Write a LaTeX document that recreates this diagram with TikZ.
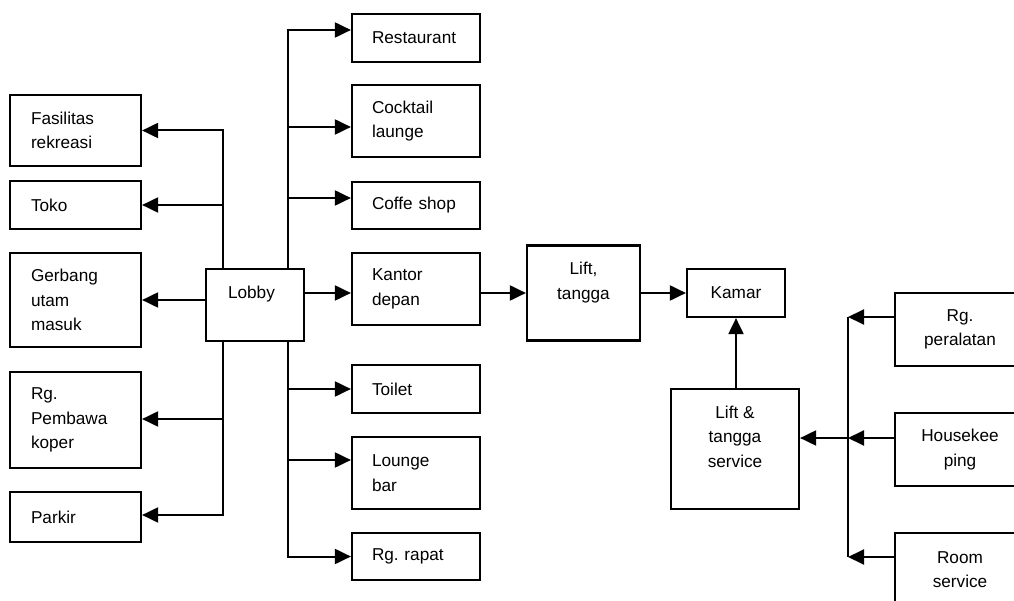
\documentclass[tikz,border=0pt]{standalone}
\usepackage{fontspec}
\setmainfont{Liberation Sans}
\usetikzlibrary{arrows.meta}
\frenchspacing
\begin{document}
\begin{tikzpicture}[x=1pt,y=-1pt,
  box/.style={draw, line width=2.2pt, inner sep=0pt,
    font=\fontsize{17.2}{24.5}\selectfont},
  lbox/.style={box, align=left, text width=#1},
  cbox/.style={box, align=center},
  conn/.style={line width=2pt},
  arr/.style={conn, -{Triangle[length=16pt,width=15pt]}}]
\useasboundingbox (0,0) rectangle (1014,601);
\clip (0,0) rectangle (1014,601);

% left column
\node[lbox=89, minimum width=131, minimum height=71] (fas)  at (75.5,130.5) {Fasilitas\\rekreasi};
\node[lbox=89, minimum width=131, minimum height=48] (toko) at (75.5,205) {Toko};
\node[lbox=89, minimum width=131, minimum height=94] (gerb) at (75.5,300) {Gerbang\\utam\\masuk};
\node[lbox=89, minimum width=131, minimum height=96] (rgp)  at (75.5,420) {Rg.\\Pembawa\\koper};
\node[lbox=89, minimum width=131, minimum height=50] (park) at (75.5,517) {Parkir};

% lobby
\node[lbox=54, minimum width=98, minimum height=72] (lobby) at (255,305) {Lobby\\\mbox{}};

% middle column
\node[lbox=88, minimum width=128, minimum height=48] (rest)  at (416,38)    {Restaurant};
\node[lbox=88, minimum width=128, minimum height=72] (cock)  at (416,121)   {Cocktail\\launge};
\node[lbox=88, minimum width=128, minimum height=47] (coff)  at (416,205.5) {Coffe shop};
\node[lbox=88, minimum width=128, minimum height=72] (kant)  at (416,289)   {Kantor\\depan};
\node[lbox=88, minimum width=128, minimum height=48] (toil)  at (416,389)   {Toilet};
\node[lbox=88, minimum width=128, minimum height=72] (loun)  at (416,473)   {Lounge\\bar};
\node[lbox=88, minimum width=128, minimum height=47] (rapat) at (416,556.5) {Rg. rapat};

% vertical circulation and rooms
\node[cbox, minimum width=113, minimum height=95] (lift)  at (583.5,293) {Lift,\\tangga\\\mbox{}};
\node[cbox, minimum width=98,  minimum height=48] (kamar) at (736,293)   {Kamar};
\node[cbox, minimum width=128, minimum height=120] (svc)  at (735,449)   {Lift \&\\tangga\\service\\\mbox{}};

% service column
\node[cbox, minimum width=130, minimum height=73] (rg) at (960,329.5) {Rg.\\peralatan};
\node[cbox, minimum width=130, minimum height=73] (hk) at (960,449.5) {Housekee\\ping};
\node[cbox, minimum width=130, minimum height=73] (rs) at (960,569.5) {Room\\service};

% lobby: left branches
\coordinate (lbt) at (223,269);
\coordinate (lbb) at (223,341);
\draw[arr] (lbt) |- (fas.east);
\draw[arr] (lbt) |- (toko.east);
\draw[arr] (lobby.west |- gerb.east) -- (gerb.east);
\draw[arr] (lbb) |- ([yshift=1]rgp.east);
\draw[arr] (lbb) |- ([yshift=2]park.east);

% lobby: right branches
\coordinate (rbt) at (288,269);
\coordinate (rbb) at (288,341);
\draw[arr] (rbt) |- ([yshift=8]rest.west);
\draw[arr] (rbt) |- ([yshift=-6]cock.west);
\draw[arr] (rbt) |- ([yshift=7.5]coff.west);
\draw[arr] ([yshift=-4]kant.west -| lobby.east) -- ([yshift=-4]kant.west);
\draw[arr] (rbb) |- (toil.west);
\draw[arr] (rbb) |- ([yshift=13]loun.west);
\draw[arr] (rbb) |- (rapat.west);

% main route to the rooms
\draw[arr] ([yshift=-4]kant.east) -- (lift.west);
\draw[arr] (lift.east) -- (kamar.west);
\draw[arr] (svc.north -| kamar.south) -- (kamar.south);

% service bus
\coordinate (bt) at (848,317);
\coordinate (bm) at (848,438);
\coordinate (bb) at (848,557);
\draw[conn] (bt) -- (bb);
\draw[arr] ([yshift=12.5]rg.west) -- (bt);
\draw[arr] ([yshift=11.5]hk.west) -- (bm);
\draw[arr] ([yshift=12.5]rs.west) -- (bb);
\draw[arr] (bm) -- ([yshift=11]svc.east);
\end{tikzpicture}
\end{document}
